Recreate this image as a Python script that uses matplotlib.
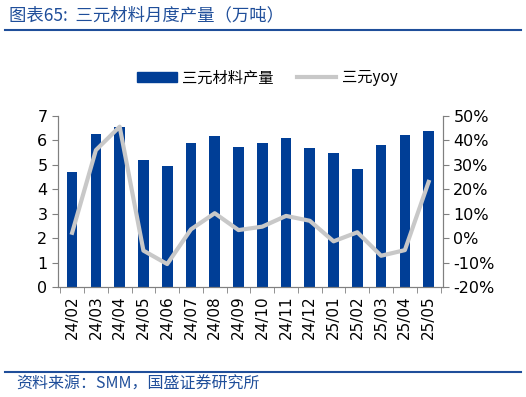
import matplotlib
matplotlib.use("Agg")
import matplotlib.pyplot as plt
from matplotlib.lines import Line2D
from matplotlib.patches import Patch

plt.rcParams['font.family'] = ['DejaVu Sans', 'Noto Sans CJK SC']

months = ["24/02", "24/03", "24/04", "24/05", "24/06", "24/07", "24/08", "24/09",
          "24/10", "24/11", "24/12", "25/01", "25/02", "25/03", "25/04", "25/05"]
output = [4.71, 6.28, 6.54, 5.20, 4.95, 5.89, 6.19, 5.73,
          5.89, 6.10, 5.70, 5.47, 4.83, 5.80, 6.22, 6.39]
yoy = [2.2, 36.0, 45.6, -5.1, -10.6, 3.6, 10.2, 3.3,
       4.7, 9.1, 7.1, -1.3, 2.4, -7.2, -4.9, 23.0]

bar_color = "#003E96"
line_color = "#C8C8C8"
title_color = "#1F4E9A"

fig = plt.figure(figsize=(5.26, 3.97), dpi=100)
ax = fig.add_axes([0.110, 0.277, 0.732, 0.431])
x = range(len(months))
ax.bar(x, output, width=0.45, color=bar_color, zorder=2)
ax.set_ylim(0, 7)
ax.set_xlim(-0.6, len(months) - 0.4)
ax.set_yticks(range(0, 8))
ax.set_xticks(x)
ax.set_xticklabels(months, rotation=90, fontsize=11)
ax.tick_params(axis='x', length=0, pad=6)
ax.set_xticks([i + 0.5 for i in range(-1, len(months))], minor=True)
ax.tick_params(axis='x', which='minor', length=4, direction='out', color='#808080')
ax.tick_params(axis='y', labelsize=11.5, length=4, color='#808080')
ax.spines["top"].set_visible(False)
for s in ["left", "bottom", "right"]:
    ax.spines[s].set_color('#808080')

ax2 = ax.twinx()
ax2.plot(x, yoy, color=line_color, lw=3, zorder=3)
ax2.set_ylim(-20, 50)
ax2.set_yticks(range(-20, 60, 10))
ax2.set_yticklabels([f"{v}%" for v in range(-20, 60, 10)])
ax2.tick_params(axis='y', labelsize=11.5, length=4, color='#808080')
ax2.spines["top"].set_visible(False)
for s in ["left", "bottom", "right"]:
    ax2.spines[s].set_color('#808080')

# legend
handles = [Patch(color=bar_color), Line2D([0], [0], color=line_color, lw=3)]
fig.legend(handles, ["三元材料产量", "三元yoy"], loc='center', bbox_to_anchor=(0.508, 0.804),
           ncol=2, frameon=False, handlelength=2.6, handleheight=0.55,
           handletextpad=0.35, columnspacing=1.5,
           prop={'family': ['Noto Sans CJK SC', 'DejaVu Sans'], 'size': 11})

fig.text(0.017, 0.962, "图表65:  三元材料月度产量（万吨）", color=title_color, fontsize=12.5,
         style='italic', family=['Noto Sans CJK SC', 'DejaVu Sans'], va='center')
fig.add_artist(Line2D([0.01, 0.99], [0.924, 0.924], color=title_color, lw=1.5))
fig.add_artist(Line2D([0.01, 0.99], [0.063, 0.063], color=title_color, lw=1.5))
fig.text(0.03, 0.032, "资料来源：SMM，国盛证券研究所", color=title_color, fontsize=11.5,
         style='italic', family=['Noto Sans CJK SC', 'DejaVu Sans'], va='center')

fig.savefig("out.png", dpi=100)
